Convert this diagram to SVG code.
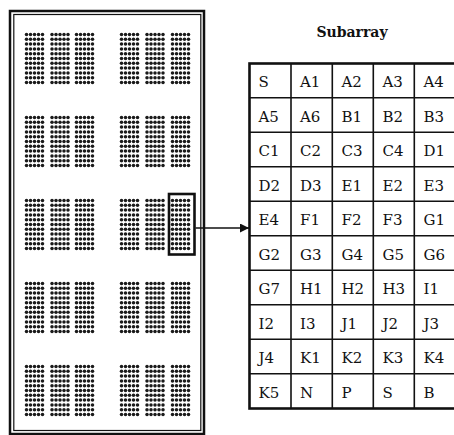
<svg xmlns="http://www.w3.org/2000/svg" width="454" height="435" viewBox="0 0 454 435">
<style>
.frame{fill:none;stroke:#111}
.grid{stroke:#111;stroke-width:1.6;fill:none}
.cell{font-family:"DejaVu Serif",serif;font-size:15px;fill:#111}
.title{font-family:"DejaVu Serif",serif;font-size:14px;font-weight:bold;fill:#111}
.dot{fill:#1a1a1a}
</style>
<defs>
<g id="c" class="dot">
<g id="r"><circle cx="0" cy="0" r="1.75"/><circle cx="4" cy="0" r="1.75"/><circle cx="8" cy="0" r="1.75"/><circle cx="12" cy="0" r="1.75"/><circle cx="16" cy="0" r="1.75"/></g>
<use href="#r" y="4.8"/><use href="#r" y="9.6"/><use href="#r" y="14.4"/><use href="#r" y="19.2"/><use href="#r" y="24"/><use href="#r" y="28.8"/><use href="#r" y="33.6"/><use href="#r" y="38.4"/><use href="#r" y="43.2"/><use href="#r" y="48"/>
</g>
<g id="band">
<use href="#c" x="26.5"/><use href="#c" x="52"/><use href="#c" x="76.5"/><use href="#c" x="121.5"/><use href="#c" x="147"/><use href="#c" x="172.5"/>
</g>
<marker id="ah" markerWidth="10" markerHeight="9" refX="9" refY="4.5" orient="auto" markerUnits="userSpaceOnUse">
<path d="M0,0 L9,4.5 L0,9 Z" fill="#111"/>
</marker>
</defs>
<rect width="454" height="435" fill="#fff"/>
<g id="wafer">
<rect class="frame" x="10" y="11" width="194" height="423" stroke-width="2.5"/>
<rect class="frame" x="13.8" y="14.5" width="187" height="416" stroke-width="1.2"/>
<use href="#band" y="34.5"/>
<use href="#band" y="117.5"/>
<use href="#band" y="200.5"/>
<use href="#band" y="283.5"/>
<use href="#band" y="366.5"/>
</g>
<g id="highlight">
<rect x="169" y="194" width="25.5" height="60.5" fill="none" stroke="#111" stroke-width="2.6"/>
</g>
<g id="connectors">
<line x1="195.5" y1="228" x2="249" y2="228" stroke="#111" stroke-width="1.6" marker-end="url(#ah)"/>
</g>
<g id="subarray">
<text class="title" x="352" y="36.5" text-anchor="middle">Subarray</text>
<rect x="249.5" y="63.5" width="206" height="345" fill="none" stroke="#111" stroke-width="2.6"/>
<path class="grid" d="M291,63.5V408.5M332.3,63.5V408.5M373.3,63.5V408.5M414.3,63.5V408.5M249.5,97.8H455M249.5,132.3H455M249.5,166.8H455M249.5,201.3H455M249.5,235.8H455M249.5,270.3H455M249.5,304.8H455M249.5,339.3H455M249.5,373.8H455"/>
<g class="cell">
<text y="87"><tspan x="258.5">S</tspan><tspan x="300">A1</tspan><tspan x="341.5">A2</tspan><tspan x="382.5">A3</tspan><tspan x="423.5">A4</tspan></text>
<text y="121.5"><tspan x="258.5">A5</tspan><tspan x="300">A6</tspan><tspan x="341.5">B1</tspan><tspan x="382.5">B2</tspan><tspan x="423.5">B3</tspan></text>
<text y="156"><tspan x="258.5">C1</tspan><tspan x="300">C2</tspan><tspan x="341.5">C3</tspan><tspan x="382.5">C4</tspan><tspan x="423.5">D1</tspan></text>
<text y="190.5"><tspan x="258.5">D2</tspan><tspan x="300">D3</tspan><tspan x="341.5">E1</tspan><tspan x="382.5">E2</tspan><tspan x="423.5">E3</tspan></text>
<text y="225"><tspan x="258.5">E4</tspan><tspan x="300">F1</tspan><tspan x="341.5">F2</tspan><tspan x="382.5">F3</tspan><tspan x="423.5">G1</tspan></text>
<text y="259.5"><tspan x="258.5">G2</tspan><tspan x="300">G3</tspan><tspan x="341.5">G4</tspan><tspan x="382.5">G5</tspan><tspan x="423.5">G6</tspan></text>
<text y="294"><tspan x="258.5">G7</tspan><tspan x="300">H1</tspan><tspan x="341.5">H2</tspan><tspan x="382.5">H3</tspan><tspan x="423.5">I1</tspan></text>
<text y="328.5"><tspan x="258.5">I2</tspan><tspan x="300">I3</tspan><tspan x="341.5">J1</tspan><tspan x="382.5">J2</tspan><tspan x="423.5">J3</tspan></text>
<text y="363"><tspan x="258.5">J4</tspan><tspan x="300">K1</tspan><tspan x="341.5">K2</tspan><tspan x="382.5">K3</tspan><tspan x="423.5">K4</tspan></text>
<text y="397.5"><tspan x="258.5">K5</tspan><tspan x="300">N</tspan><tspan x="341.5">P</tspan><tspan x="382.5">S</tspan><tspan x="423.5">B</tspan></text>
</g>
</g>
</svg>
